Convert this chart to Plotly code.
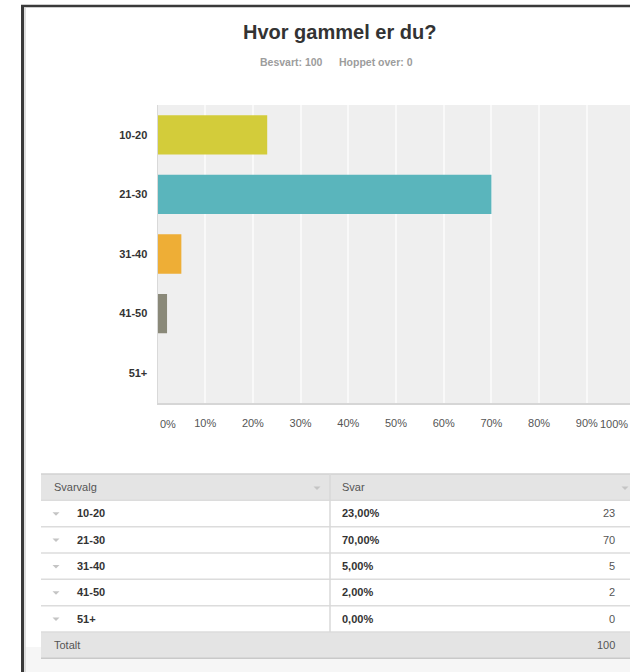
import plotly.graph_objects as go

# Survey question: age groups and number of answers
categories = ["10-20", "21-30", "31-40", "41-50", "51+"]
counts = [23, 70, 5, 2, 0]
answered = 100
skipped = 0
bar_colors = ["#d3cc3a", "#5ab5bc", "#eeae36", "#8a8979", "#b0b0b0"]
x_ticks = [10, 20, 30, 40, 50, 60, 70, 80, 90]
x_edge_ticks = [0, 100]

total = sum(counts)
percents = [c / total * 100 for c in counts]

W, H = 630, 672
FONT = "Liberation Sans, Arial, sans-serif"


def px(x):
    return x / W


def py(y):
    return 1 - y / H


fig = go.Figure()
fig.add_trace(go.Bar(
    x=percents,
    y=categories,
    orientation="h",
    marker=dict(color=bar_colors, line=dict(width=0)),
    hoverinfo="skip",
))

shapes = []
annotations = []

# outer frame of the page
shapes.append(dict(type="line", xref="paper", yref="paper",
                   x0=px(22.5), x1=px(22.5), y0=py(5), y1=py(H + 2),
                   line=dict(color="#3a3a3a", width=3)))
shapes.append(dict(type="line", xref="paper", yref="paper",
                   x0=px(21), x1=px(W + 2), y0=py(6), y1=py(6),
                   line=dict(color="#3a3a3a", width=2.5)))
shapes.append(dict(type="line", xref="paper", yref="paper",
                   x0=px(25), x1=px(25), y0=py(8), y1=py(H + 2),
                   line=dict(color="#bdbdbd", width=1)))

# light band under the table
shapes.append(dict(type="rect", xref="paper", yref="paper", layer="below",
                   x0=px(25.5), x1=px(W + 2), y0=py(647), y1=py(H + 2),
                   fillcolor="#f6f6f6", line=dict(width=0)))

# title and counts line
annotations.append(dict(xref="paper", yref="paper", x=px(339), y=py(32),
                        text="<b>Hvor gammel er du?</b>", showarrow=False,
                        xanchor="center", yanchor="middle",
                        font=dict(family=FONT, size=20, color="#333333")))
annotations.append(dict(xref="paper", yref="paper", x=px(339), y=py(62),
                        text=f"<b>Besvart: {answered}</b>", showarrow=False,
                        xanchor="right", yanchor="middle", xshift=-14.5,
                        font=dict(family=FONT, size=10.5, color="#9c9c9c")))
annotations.append(dict(xref="paper", yref="paper", x=px(339), y=py(62),
                        text=f"<b>Hoppet over: {skipped}</b>", showarrow=False,
                        xanchor="left", yanchor="middle", xshift=-2,
                        font=dict(family=FONT, size=10.5, color="#9c9c9c")))

x_left_px = 157.5
px_per_pct = 4.77
x_max = (W - x_left_px) / px_per_pct

# justified first/last percentage labels of the value axis
annotations.append(dict(xref="x domain", yref="paper", x=x_edge_ticks[0] / x_max, y=py(423.5),
                        text=f"{x_edge_ticks[0]}%", showarrow=False,
                        xanchor="left", yanchor="middle",
                        font=dict(family=FONT, size=11, color="#555555")))
annotations.append(dict(xref="x domain", yref="paper", x=x_edge_ticks[1] / x_max, y=py(423.5),
                        text=f"{x_edge_ticks[1]}%", showarrow=False,
                        xanchor="right", yanchor="middle", xshift=-5,
                        font=dict(family=FONT, size=11, color="#555555")))

# summary table
T_LEFT, T_RIGHT, T_DIV = 41, W + 2, 330
ROW_H = 26.33
T_TOP = 474
n_rows = len(categories) + 2
bounds = [T_TOP + i * ROW_H for i in range(n_rows + 1)]

shapes.append(dict(type="rect", xref="paper", yref="paper",
                   x0=px(T_LEFT), x1=px(T_RIGHT), y0=py(bounds[0]), y1=py(bounds[1]),
                   fillcolor="#e4e4e4", line=dict(width=0)))
shapes.append(dict(type="rect", xref="paper", yref="paper",
                   x0=px(T_LEFT), x1=px(T_RIGHT), y0=py(bounds[-2]), y1=py(bounds[-1]),
                   fillcolor="#e4e4e4", line=dict(width=0)))
shapes.append(dict(type="rect", xref="paper", yref="paper",
                   x0=px(T_LEFT), x1=px(T_RIGHT), y0=py(bounds[1]), y1=py(bounds[-2]),
                   fillcolor="#ffffff", line=dict(width=0)))
for i, b in enumerate(bounds):
    if i == 0:
        col = "#d2d2d2"
    elif i == len(bounds) - 1:
        col = "#c9c9c9"
    else:
        col = "#dcdcdc"
    shapes.append(dict(type="line", xref="paper", yref="paper",
                       x0=px(T_LEFT), x1=px(T_RIGHT), y0=py(b), y1=py(b),
                       line=dict(color=col, width=1.5)))
shapes.append(dict(type="line", xref="paper", yref="paper",
                   x0=px(T_DIV), x1=px(T_DIV), y0=py(bounds[0]), y1=py(bounds[-2]),
                   line=dict(color="#d8d8d8", width=1.5)))


def tri(cx, cy, w=7, h=3.5, color="#c4c4c4"):
    x0, x1 = px(cx - w / 2), px(cx + w / 2)
    y0, y1 = py(cy - h / 2), py(cy + h / 2)
    xm = px(cx)
    return dict(type="path", xref="paper", yref="paper",
                path=f"M {x0} {y0} L {x1} {y0} L {xm} {y1} Z",
                fillcolor=color, line=dict(width=0))


def row_mid(i):
    return (bounds[i] + bounds[i + 1]) / 2


# header row
hy = row_mid(0)
annotations.append(dict(xref="paper", yref="paper", x=px(52), y=py(hy),
                        text="Svarvalg", showarrow=False, xanchor="left", yanchor="middle",
                        font=dict(family=FONT, size=11, color="#555555")))
annotations.append(dict(xref="paper", yref="paper", x=px(340), y=py(hy),
                        text="Svar", showarrow=False, xanchor="left", yanchor="middle",
                        font=dict(family=FONT, size=11, color="#555555")))
shapes.append(tri(317, hy + 1))
shapes.append(tri(625, hy + 1))

# one row per answer option
for i, (cat, cnt, pct) in enumerate(zip(categories, counts, percents)):
    ry = row_mid(i + 1)
    shapes.append(tri(56, ry + 0.5))
    annotations.append(dict(xref="paper", yref="paper", x=px(75), y=py(ry),
                            text=f"<b>{cat}</b>", showarrow=False,
                            xanchor="left", yanchor="middle",
                            font=dict(family=FONT, size=11, color="#333333")))
    pct_txt = f"{pct:.2f}".replace(".", ",") + "%"
    annotations.append(dict(xref="paper", yref="paper", x=px(340), y=py(ry),
                            text=f"<b>{pct_txt}</b>", showarrow=False,
                            xanchor="left", yanchor="middle",
                            font=dict(family=FONT, size=11, color="#333333")))
    annotations.append(dict(xref="paper", yref="paper", x=px(617), y=py(ry),
                            text=str(cnt), showarrow=False,
                            xanchor="right", yanchor="middle",
                            font=dict(family=FONT, size=11, color="#555555")))

# total row
ty = row_mid(n_rows - 1)
annotations.append(dict(xref="paper", yref="paper", x=px(52), y=py(ty),
                        text="Totalt", showarrow=False, xanchor="left", yanchor="middle",
                        font=dict(family=FONT, size=11, color="#555555")))
annotations.append(dict(xref="paper", yref="paper", x=px(617), y=py(ty),
                        text=str(total), showarrow=False, xanchor="right", yanchor="middle",
                        font=dict(family=FONT, size=11, color="#555555")))

fig.update_layout(
    width=W, height=H,
    margin=dict(l=0, r=0, t=0, b=0),
    paper_bgcolor="#ffffff",
    plot_bgcolor="#efefef",
    showlegend=False,
    bargap=0.34,
    shapes=shapes,
    annotations=annotations,
    xaxis=dict(
        domain=[px(x_left_px), 1],
        range=[0, x_max],
        tickvals=x_ticks,
        ticktext=[f"{v}%" for v in x_ticks],
        showgrid=True, gridcolor="#f9f9f9", gridwidth=1.5,
        zeroline=False,
        showline=True, linecolor="#d6d6d6", linewidth=1.5,
        ticks="", ticklabelstandoff=9,
        tickfont=dict(family=FONT, size=11, color="#555555"),
        fixedrange=True,
    ),
    yaxis=dict(
        domain=[py(403), py(105)],
        categoryorder="array", categoryarray=categories,
        autorange="reversed",
        showgrid=False, zeroline=False,
        showline=True, linecolor="#d9d9d9", linewidth=1,
        ticks="", ticklabelstandoff=7,
        tickfont=dict(family=FONT, size=11, color="#333333", weight="bold"),
        fixedrange=True,
    ),
)

fig.write_html("out.html")
